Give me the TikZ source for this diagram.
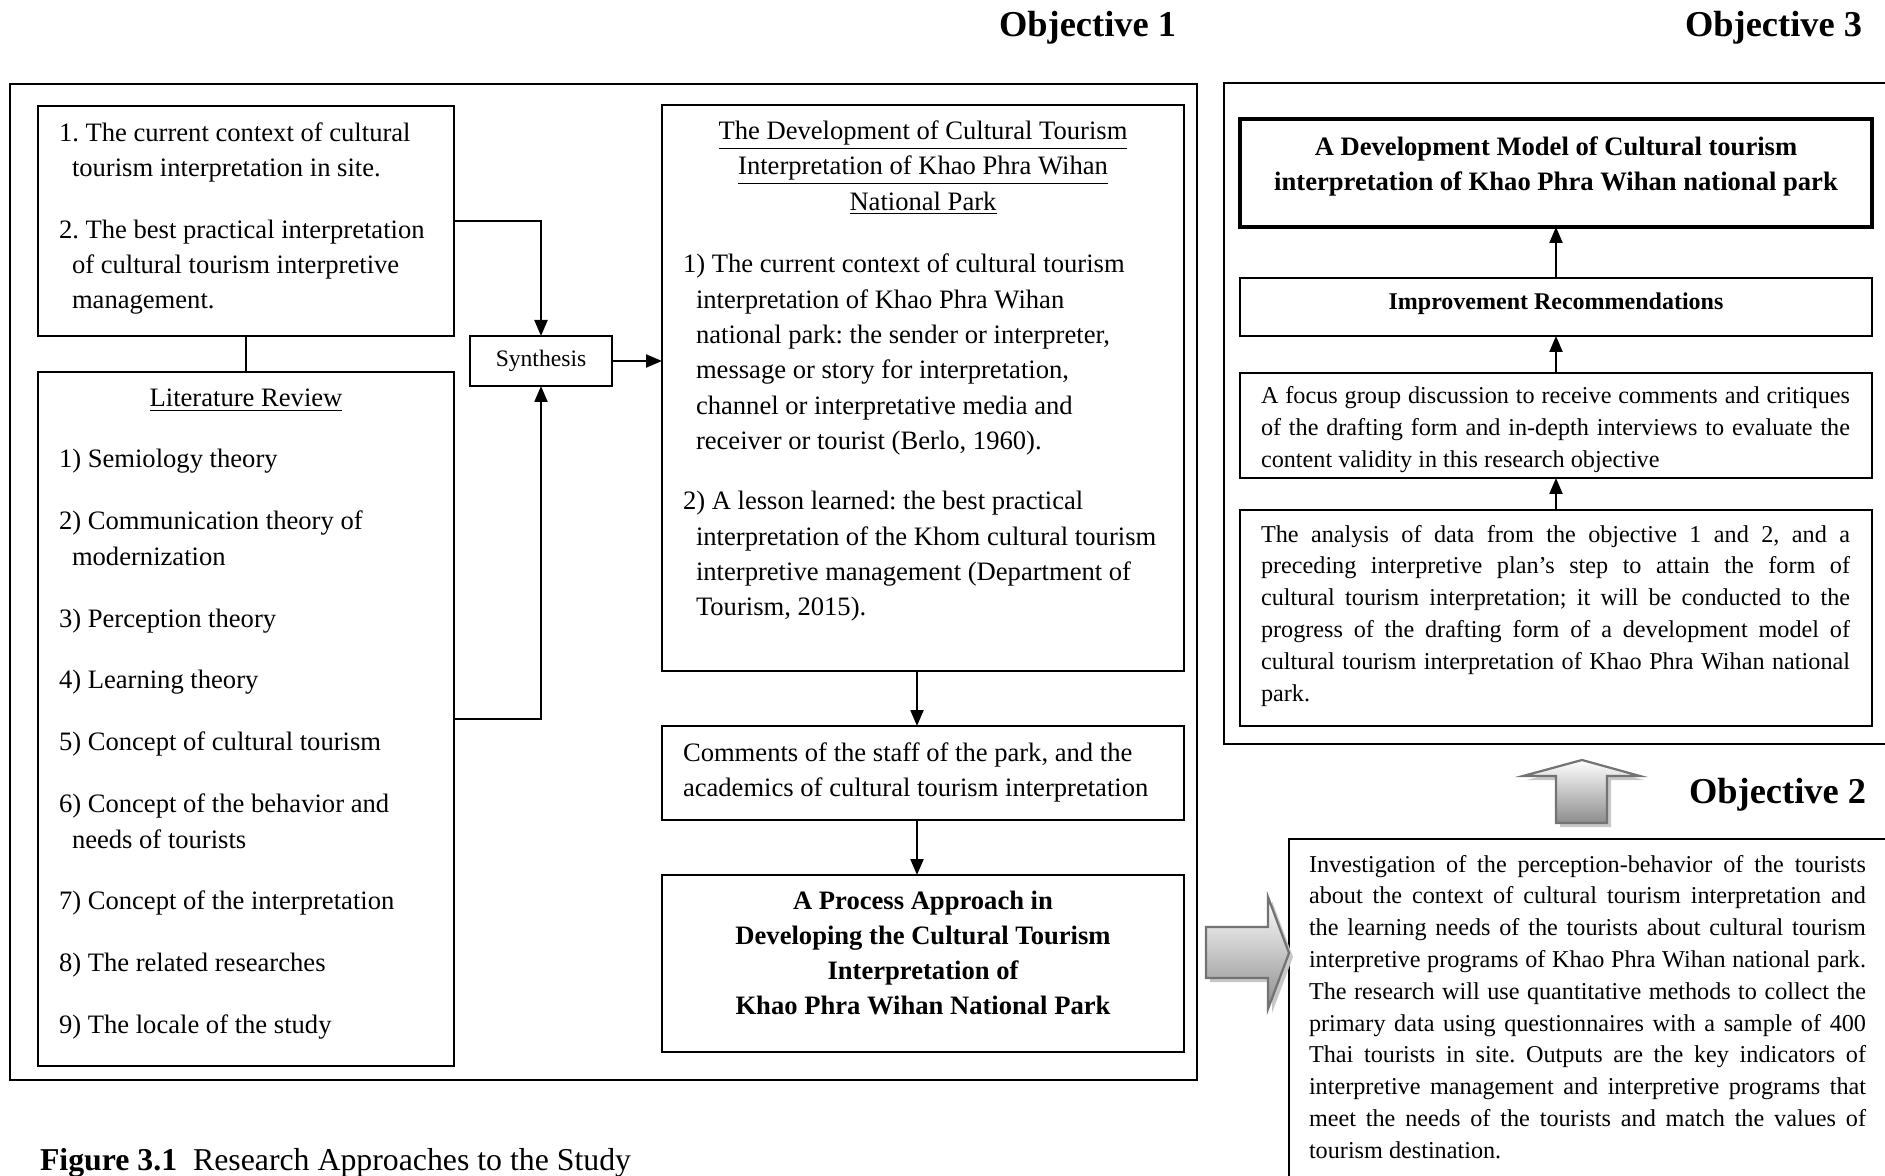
\documentclass[tikz,border=0pt]{standalone}
\usepackage{fontspec}
\setmainfont{Liberation Serif}
\usetikzlibrary{arrows.meta}
\frenchspacing
\newcommand\fmainx{\fontsize{13.3}{17.65}\selectfont}
\newcommand\fsmallx{\fontsize{12.1}{15.9}\selectfont}
\newcommand\fobjx{\fontsize{18.2}{22}\selectfont\bfseries}
\newcommand\jline[1]{\makebox[\linewidth][s]{#1}}
\newcommand\ind{\hspace*{6.5pt}}
\newcommand\mybox[6][boxst]{\node[#1, minimum width={(#4-#2)*0.5pt}, minimum height={(#5-#3)*0.5pt}] (#6) at ({(#2+#4)/2},{(#3+#5)/2}) {};}
\tikzset{
  boxst/.style={draw, line width=1.1pt, inner sep=0pt, outer sep=0pt},
  outerst/.style={draw, line width=1.3pt, inner sep=0pt, outer sep=0pt},
  thickst/.style={draw, line width=2.4pt, inner sep=0pt, outer sep=0pt},
  conn/.style={line width=1.1pt},
  arr/.style={line width=1.1pt, -{Triangle[length=8pt,width=6.5pt]}},
  txt/.style={inner sep=0pt, outer sep=0pt, anchor=base west},
  ctxt/.style={inner sep=0pt, outer sep=0pt, anchor=base},
  blockarrow/.style={draw=black!55, line width=1.1pt, top color=white, bottom color=black!45},
  blockshadow/.style={fill=black!22, draw=none}
}
\begin{document}
\begin{tikzpicture}[x=0.5pt, y=-0.5pt]
\useasboundingbox (0,0) rectangle (1885,1176);

% objectives
\node[txt, anchor=base east, font=\fobjx] (o1) at (1176,37) {Objective 1};
\node[txt, anchor=base east, font=\fobjx] (o3) at (1862,37) {Objective 3};
\node[txt, anchor=base east, font=\fobjx] (o2) at (1866,803) {Objective 2};

% left outer frame
\mybox[outerst]{10}{84}{1197}{1080}{outl}
% boxes left
\mybox{38}{106}{454}{336}{b1}
\mybox{38}{372}{454}{1066}{lr}
\mybox{470}{336}{612}{386}{syn}
\mybox{662}{105}{1184}{671}{dev}
\mybox{662}{726}{1184}{820}{com}
\mybox{662}{875}{1184}{1052}{proc}

% box1 text
\node[txt, font=\fmainx] (b1t) at (59,141.7) {\parbox[t]{200pt}{\raggedright
1. The current context of cultural\\
\ind tourism interpretation in site.\\[12.9pt]
2. The best practical interpretation\\
\ind of cultural tourism interpretive\\
\ind management.}};

% literature review
\node[ctxt, font=\fmainx] (lrh) at (246,407) {\underline{Literature Review}};
\node[txt, font=\fmainx] (lrt) at (59,468) {\parbox[t]{200pt}{\raggedright
1) Semiology theory\\[13.3pt]
2) Communication theory of\\
\ind modernization\\[13.3pt]
3) Perception theory\\[13.3pt]
4) Learning theory\\[13.3pt]
5) Concept of cultural tourism\\[13.3pt]
6) Concept of the behavior and\\
\ind needs of tourists\\[13.3pt]
7) Concept of the interpretation\\[13.3pt]
8) The related researches\\[13.3pt]
9) The locale of the study}};

% synthesis
\node[font=\fontsize{11.8}{14}\selectfont, inner sep=0pt] (synt) at (syn) {Synthesis};

% development box
\node[ctxt, font=\fmainx] (devh) at (923,139.5) {\parbox[t]{250pt}{\centering
\underline{The Development of Cultural Tourism}\\
\underline{Interpretation of Khao Phra Wihan}\\
\underline{National Park}}};
\node[txt, font=\fmainx] (devt) at (683,273) {\parbox[t]{250pt}{\raggedright
1) The current context of cultural tourism\\
\ind interpretation of Khao Phra Wihan\\
\ind national park: the sender or interpreter,\\
\ind message or story for interpretation,\\
\ind channel or interpretative media and\\
\ind receiver or tourist (Berlo, 1960).\\[12.6pt]
2) A lesson learned: the best practical\\
\ind interpretation of the Khom cultural tourism\\
\ind interpretive management (Department of\\
\ind Tourism, 2015).}};

% comments
\node[txt, font=\fmainx] (comt) at (683,761) {\parbox[t]{250pt}{\raggedright
Comments of the staff of the park, and the\\
academics of cultural tourism interpretation}};

% process
\node[ctxt, font=\fmainx\bfseries] (proct) at (923,909) {\parbox[t]{250pt}{\centering
A Process Approach in\\
Developing the Cultural Tourism\\
Interpretation of\\
Khao Phra Wihan National Park}};

% connectors left
\draw[conn] (b1.south) -- (lr.north);
\draw[arr] (b1.east) -| (syn.north);
\draw[arr] (lr.east) -| (syn.south);
\draw[arr] (syn.east) -- (dev.west |- syn.east);
\draw[arr] ([xshift=-3pt]dev.south) -- ([xshift=-3pt]com.north);
\draw[arr] ([xshift=-3pt]com.south) -- ([xshift=-3pt]proc.north);

% right outer frame
\mybox[outerst]{1224}{83}{1905}{744}{outr}
\mybox[thickst]{1240}{119}{1872}{227}{model}
\mybox{1240}{278}{1872}{336}{impr}
\mybox{1240}{373}{1872}{478}{foc}
\mybox{1240}{510}{1872}{726}{ana}

\node[ctxt, font=\fontsize{13.3}{17.5}\selectfont\bfseries] (modelt) at (1556,156) {\parbox[t]{310pt}{\centering
A Development Model of Cultural tourism\\
interpretation of Khao Phra Wihan national park}};
\node[ctxt, font=\fontsize{12.0}{14}\selectfont\bfseries] (imprt) at (1556,310) {Improvement Recommendations};

\node[txt, font=\fsmallx] (foct) at (1261,403.5) {\parbox[t]{294.5pt}{
\jline{A focus group discussion to receive comments and critiques}\\
\jline{of the drafting form and in-depth interviews to evaluate the}\\
content validity in this research objective}};

\node[txt, font=\fsmallx] (anat) at (1261,542) {\parbox[t]{294.5pt}{
\jline{The analysis of data from the objective 1 and 2, and a}\\
\jline{preceding interpretive plan’s step to attain the form of}\\
\jline{cultural tourism interpretation; it will be conducted to the}\\
\jline{progress of the drafting form of a development model of}\\
\jline{cultural tourism interpretation of Khao Phra Wihan national}\\
park.}};

\draw[arr] (impr.north) -- (model.south);
\draw[arr] (foc.north) -- (impr.south);
\draw[arr] (ana.north) -- (foc.south);

% investigation box
\mybox{1289}{839}{1905}{1200}{inv}
\node[txt, font=\fsmallx] (invt) at (1309,872) {\parbox[t]{278.5pt}{
\jline{Investigation of the perception-behavior of the tourists}\\
\jline{about the context of cultural tourism interpretation and}\\
\jline{the learning needs of the tourists about cultural tourism}\\
\jline{interpretive programs of Khao Phra Wihan national park.}\\
\jline{The research will use quantitative methods to collect the}\\
\jline{primary data using questionnaires with a sample of 400}\\
\jline{Thai tourists in site. Outputs are the key indicators of}\\
\jline{interpretive management and interpretive programs that}\\
\jline{meet the needs of the tourists and match the values of}\\
tourism destination.}};

% block arrows
\path[blockshadow] (1560,827) -- (1560,780) -- (1527,780) -- (1586,764) -- (1644,780) -- (1611,780) -- (1611,827) -- cycle;
\path[blockarrow] (1556,823) -- (1556,776) -- (1523,776) -- (1582,760) -- (1640,776) -- (1607,776) -- (1607,823) -- cycle;

\path[blockshadow] (1210,982) -- (1210,931) -- (1272,931) -- (1272,901) -- (1293,957) -- (1272,1013) -- (1272,982) -- cycle;
\path[blockarrow] (1206,978) -- (1206,927) -- (1268,927) -- (1268,897) -- (1289,953) -- (1268,1009) -- (1268,978) -- cycle;

% caption
\node[txt, font=\fontsize{15.9}{19}\selectfont] (cap) at (40,1170) {\textbf{Figure 3.1}\hspace{0.5em}Research Approaches to the Study};
\end{tikzpicture}
\end{document}
